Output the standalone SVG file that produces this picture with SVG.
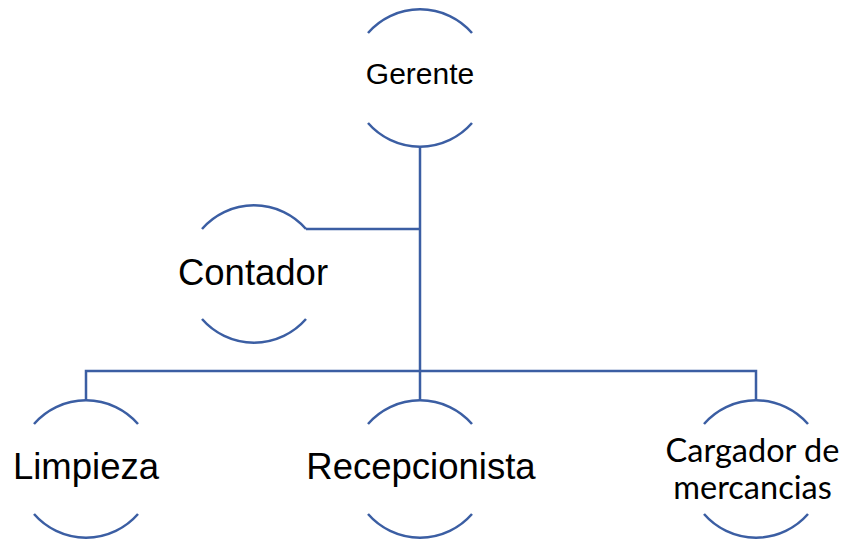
<svg xmlns="http://www.w3.org/2000/svg" width="849" height="544" viewBox="0 0 849 544">
<style>
.arc{fill:none;stroke:#3B5EA3;stroke-width:2.5}
.con{fill:none;stroke:#3B5EA3;stroke-width:2.5}
.t{font-family:"Liberation Sans",Arial,sans-serif;fill:#000;text-anchor:middle}
.c{font-family:Lato,"Liberation Sans",sans-serif;fill:#000;text-anchor:middle}
</style>
<rect width="849" height="544" fill="#fff"/>
<g id="connectors">
<path class="con" d="M420 147 V371"/>
<path class="con" d="M306 229 H420"/>
<path class="con" d="M86 400 V371 H756 V400"/>
<path class="con" d="M420 371 V400"/>
</g>
<g id="gerente">
<path class="arc" d="M368 33 A69 69 0 0 1 472 33"/>
<path class="arc" d="M368 123 A69 69 0 0 0 472 123"/>
<text class="t" x="420" y="84" font-size="30">Gerente</text>
</g>
<g id="contador">
<path class="arc" d="M202 229 A69 69 0 0 1 306 229"/>
<path class="arc" d="M202 319 A69 69 0 0 0 306 319"/>
<text class="t" x="253" y="285" font-size="36.5">Contador</text>
</g>
<g id="limpieza">
<path class="arc" d="M34 424 A69 69 0 0 1 138 424"/>
<path class="arc" d="M34 514 A69 69 0 0 0 138 514"/>
<text class="t" x="86" y="479" font-size="36.5">Limpieza</text>
</g>
<g id="recepcionista">
<path class="arc" d="M368 424 A69 69 0 0 1 472 424"/>
<path class="arc" d="M368 514 A69 69 0 0 0 472 514"/>
<text class="t" x="421" y="479" font-size="36.5">Recepcionista</text>
</g>
<g id="cargador">
<path class="arc" d="M704 424 A69 69 0 0 1 808 424"/>
<path class="arc" d="M704 514 A69 69 0 0 0 808 514"/>
<text class="c" x="752.5" y="462" font-size="32.5">Cargador de</text>
<text class="c" x="752.5" y="499" font-size="32.5">mercancias</text>
</g>
</svg>
